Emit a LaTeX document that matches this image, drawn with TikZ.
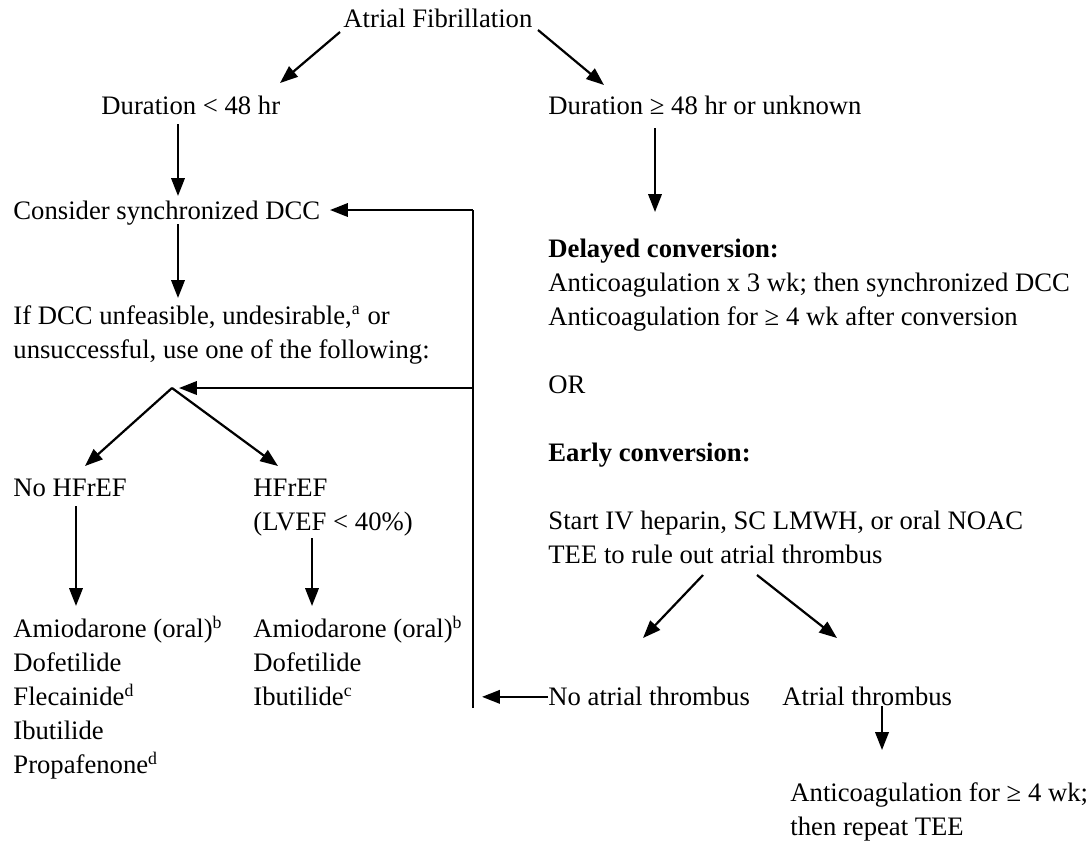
\documentclass[tikz,border=0pt]{standalone}
\usepackage{fontspec}
\setmainfont{Liberation Serif}
\usetikzlibrary{arrows.meta}

\begin{document}
\begin{tikzpicture}[x=0.45pt, y=-0.45pt,
    every node/.style={inner sep=0pt, anchor=north west, align=left, font=\fontsize{12}{15.3}\selectfont},
    arr/.style={-{Triangle[length=8pt,width=6pt]}, line width=1pt},
    link/.style={line width=1pt}]
  \useasboundingbox (0,0) rectangle (1090,840);

  % Nodes
  \node (af) at (343,9) {Atrial Fibrillation};
  \node (dshort) at (101,96) {Duration < 48 hr};
  \node (dlong) at (548,96) {Duration ≥ 48 hr or unknown};
  \node (consider) at (13,201) {Consider synchronized DCC};
  \node (ifdcc) at (13,305) {If DCC unfeasible, undesirable,\smash{\textsuperscript{a}} or\\unsuccessful, use one of the following:};
  \node (nohf) at (13,479) {No HFrEF};
  \node (hf) at (253,479) {HFrEF\\(LVEF < 40\%)};
  \node (druglist) at (13,619) {Amiodarone (oral)\smash{\textsuperscript{b}}\\Dofetilide\\Flecainide\smash{\textsuperscript{d}}\\Ibutilide\\Propafenone\smash{\textsuperscript{d}}};
  \node (hflist) at (253,619) {Amiodarone (oral)\smash{\textsuperscript{b}}\\Dofetilide\\Ibutilide\smash{\textsuperscript{c}}};
  \node (delayed) at (548,239) {\textbf{Delayed conversion:}\\Anticoagulation x 3 wk; then synchronized DCC\\Anticoagulation for ≥ 4 wk after conversion};
  \node (ortext) at (548,375) {OR};
  \node (early) at (548,443) {\textbf{Early conversion:}};
  \node (start) at (548,511) {Start IV heparin, SC LMWH, or oral NOAC\\TEE to rule out atrial thrombus};
  \node (nothromb) at (548,687) {No atrial thrombus};
  \node (thromb) at (782,687) {Atrial thrombus};
  \node (repeat) at (790,782) {Anticoagulation for ≥ 4 wk;\\then repeat TEE};

  % Loop back
  \coordinate (looptop) at (473,210);
  \coordinate (loopmid) at (473,388);
  \coordinate (loopbot) at (473,708);
  \coordinate (apex) at (172,388);

  % Edges
  \draw[arr] ([shift={(-3,23)}]af.north west) -- ([shift={(179,-13)}]dshort.north west);
  \draw[arr] ([shift={(195,21)}]af.north west) -- ([shift={(56,-11)}]dlong.north west);
  \draw[arr] ([shift={(77,28)}]dshort.north west) -- ([shift={(165,-5)}]consider.north west);
  \draw[arr] ([shift={(107,32)}]dlong.north west) -- ([shift={(107,-27)}]delayed.north west);
  \draw[arr] ([shift={(165,23)}]consider.north west) -- ([shift={(165,-7)}]ifdcc.north west);
  \draw[link] (loopbot) -- (looptop);
  \draw[arr] (looptop) -- ([shift={(317,9)}]consider.north west);
  \draw[arr] (loopmid) -- ([shift={(7,0)}]apex);
  \draw[arr] (apex) -- ([shift={(72,-13)}]nohf.north west);
  \draw[arr] (apex) -- ([shift={(25,-13)}]hf.north west);
  \draw[arr] ([shift={(63,27)}]nohf.north west) -- ([shift={(63,-13)}]druglist.north west);
  \draw[arr] ([shift={(59,59)}]hf.north west) -- ([shift={(59,-13)}]hflist.north west);
  \draw[arr] (nothromb.west) -- ([shift={(9,0)}]loopbot |- nothromb.west);
  \draw[arr] ([shift={(155,64)}]start.north west) -- ([shift={(95,-49)}]nothromb.north west);
  \draw[arr] ([shift={(209,64)}]start.north west) -- ([shift={(55,-49)}]thromb.north west);
  \draw[arr] ([shift={(100,19)}]thromb.north west) -- ([shift={(92,-32)}]repeat.north west);
\end{tikzpicture}
\end{document}
